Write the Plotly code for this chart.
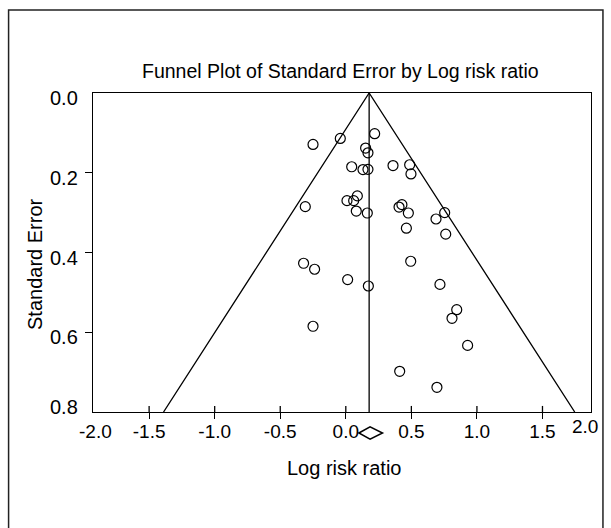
import plotly.graph_objects as go

# Study estimates (log risk ratio) and standard errors
log_rr = [-0.25, -0.042, 0.22, 0.151, 0.169, 0.045, 0.131, 0.169, 0.36, 0.487, 0.497,
          -0.309, 0.009, 0.060, 0.088, 0.080, 0.164, 0.406, 0.428, 0.477, 0.688, 0.754,
          0.462, 0.762, -0.322, -0.238, 0.495, 0.014, 0.172, 0.718,
          -0.25, 0.846, 0.81, 0.929, 0.411, 0.695]
std_err = [0.129, 0.114, 0.102, 0.138, 0.150, 0.185, 0.192, 0.1915, 0.182, 0.180, 0.203,
           0.285, 0.270, 0.270, 0.258, 0.296, 0.301, 0.286, 0.280, 0.301, 0.316, 0.300,
           0.339, 0.354, 0.427, 0.442, 0.422, 0.468, 0.484, 0.480,
           0.585, 0.5435, 0.565, 0.633, 0.698, 0.738]

summary_log_rr = 0.185
summary_ci = [0.10, 0.28]
funnel_center = 0.178
se_max = 0.8
z = 1.96

x_range = [-1.928, 1.87]
x_ticks = [-1.5, -1.0, -0.5, 0.0, 0.5, 1.0, 1.5]
x_ticktext = ["-1.5", "-1.0", "-0.5", "0.0", "0.5", "1.0", "1.5"]
y_ticks = [0.2, 0.4, 0.6]
y_labels = [0.0, 0.2, 0.4, 0.6, 0.8]
y_label_text = ["0.0", "0.2", "0.4", "0.6", "0.8"]

FONT = "Liberation Sans, Arial, sans-serif"
BLACK = "#000000"
FS = 20

fig = go.Figure()

# funnel (pseudo 95% limits) and mean line
fig.add_trace(go.Scatter(
    x=[funnel_center - z * se_max, funnel_center, funnel_center + z * se_max],
    y=[se_max, 0, se_max], mode="lines",
    line=dict(color=BLACK, width=1.3), hoverinfo="skip", showlegend=False))
fig.add_trace(go.Scatter(
    x=[funnel_center, funnel_center], y=[0, se_max], mode="lines",
    line=dict(color=BLACK, width=1.3), hoverinfo="skip", showlegend=False))

# studies
fig.add_trace(go.Scatter(
    x=log_rr, y=std_err, mode="markers",
    marker=dict(symbol="circle-open", size=10, color=BLACK, line=dict(width=1.2, color=BLACK)),
    showlegend=False))

# summary diamond drawn below the axis (x in data units, y in paper units)
dy_c, dy_h = -0.0658, 0.0195
diamond = dict(
    type="path", xref="x", yref="paper",
    path=(f"M {summary_ci[0]},{dy_c} L {summary_log_rr},{dy_c + dy_h} "
          f"L {summary_ci[1]},{dy_c} L {summary_log_rr},{dy_c - dy_h} Z"),
    line=dict(color=BLACK, width=1.5), fillcolor="rgba(0,0,0,0)")

# inner half of the crossing x tick marks
inner_ticks = [dict(type="line", xref="x", yref="paper", x0=v, x1=v, y0=0, y1=0.019,
                    line=dict(color=BLACK, width=1.3)) for v in x_ticks]

border = dict(type="rect", xref="paper", yref="paper",
              x0=-0.1695, x1=1.024, y0=-0.40, y1=1.26,
              line=dict(color="#222222", width=1.5))

# y labels sit slightly off their ticks, as in the original software
y_label_ann = []
for v, t in zip(y_labels, y_label_text):
    y_label_ann.append(dict(text=t, xref="paper", yref="y", x=-0.0261, y=v,
                            yshift=(5 if v >= 0.79 else -5),
                            xanchor="right", yanchor="middle", showarrow=False,
                            font=dict(size=FS)))

fig.update_layout(
    width=611, height=528,
    margin=dict(l=93, r=20, t=93, b=116),
    paper_bgcolor="white", plot_bgcolor="white",
    font=dict(family=FONT, size=FS, color=BLACK),
    xaxis=dict(range=x_range, tickvals=x_ticks, ticktext=x_ticktext,
               ticks="outside", ticklen=6, tickwidth=1.3, tickcolor=BLACK,
               showline=True, linecolor=BLACK, linewidth=1.3, mirror=True,
               showgrid=False, zeroline=False, ticklabelstandoff=-4,
               tickfont=dict(size=19)),
    yaxis=dict(range=[0.8, 0.0], tickvals=y_ticks, showticklabels=False,
               ticks="outside", ticklen=7, tickwidth=1.3, tickcolor=BLACK,
               showline=True, linecolor=BLACK, linewidth=1.3, mirror=True,
               showgrid=False, zeroline=False),
    shapes=[border, diamond] + inner_ticks,
    annotations=[
        dict(text="Funnel Plot of Standard Error by Log risk ratio", xref="paper", yref="paper",
             x=0.496, y=1.069, xanchor="center", yanchor="middle", showarrow=False,
             font=dict(size=19.5)),
        dict(text="Log risk ratio", xref="paper", yref="paper",
             x=0.506, y=-0.1755, xanchor="center", yanchor="middle", showarrow=False,
             font=dict(size=FS)),
        dict(text="Standard Error", xref="paper", yref="paper", textangle=-90,
             x=-0.1165, y=0.464, xanchor="center", yanchor="middle", showarrow=False,
             font=dict(size=FS)),
        dict(text="-2.0", xref="paper", yref="paper", x=0.006, y=-0.0596,
             xanchor="center", yanchor="middle", showarrow=False, font=dict(size=19)),
        dict(text="2.0", xref="paper", yref="paper", x=0.988, y=-0.047,
             xanchor="center", yanchor="middle", showarrow=False, font=dict(size=19)),
    ] + y_label_ann,
)

fig.write_html("out.html")
